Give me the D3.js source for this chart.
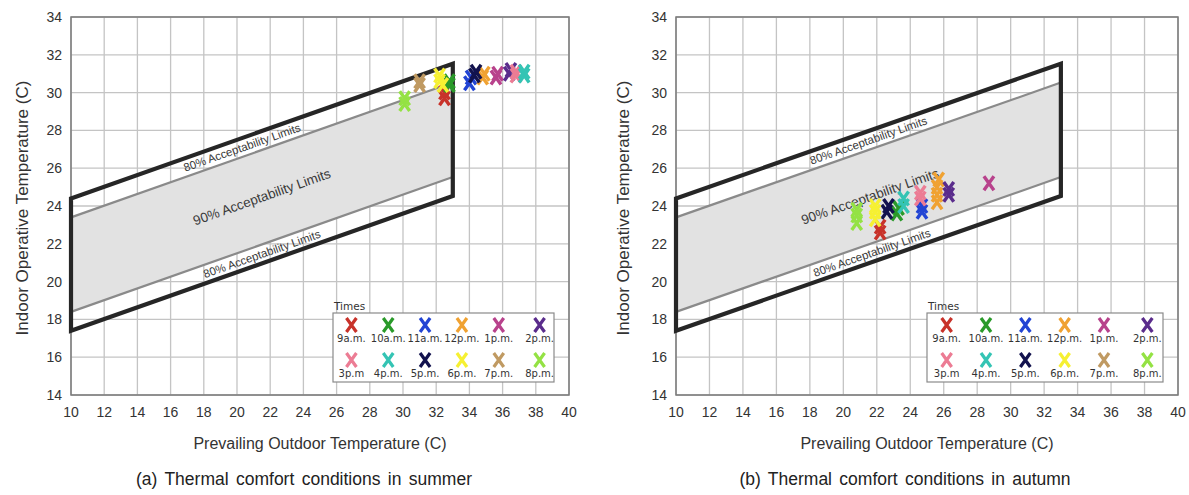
<!DOCTYPE html>
<html><head><meta charset="utf-8">
<script src="https://cdn.jsdelivr.net/npm/d3@7"></script>
<style>
body{margin:0;background:#fff;}
svg{display:block;}
</style></head>
<body>
<svg id="chart" width="1189" height="495"></svg>
<script>
// ---- data ----
const times = ["9a.m.","10a.m.","11a.m.","12p.m.","1p.m.","2p.m.","3p.m","4p.m.","5p.m.","6p.m.","7p.m.","8p.m."];
const timeColors = ["#c8322a","#2a9a2a","#2244d4","#f0a232","#b8428c","#5a2c8c","#ec7c94","#34c4b4","#12124e","#f6f032","#c09a62","#94e244"];
const xTicks = [10,12,14,16,18,20,22,24,26,28,30,32,34,36,38,40];
const yTicks = [14,16,18,20,22,24,26,28,30,32,34];
const bandOutdoor = [10, 33];           // prevailing outdoor temperature range of the comfort zone
const comfortSlope = 0.31, comfortIntercept = 17.8;
const limit80 = 3.5, limit90 = 2.5;
// summer points per time, [outdoor, indoor]
const summerPoints = [
  [[32.5,29.7],[32.5,30.0]],
  [[32.8,30.4],[32.8,30.6]],
  [[34.0,30.5],[34.1,30.8]],
  [[34.8,30.8],[34.9,31.0]],
  [[35.6,30.8],[35.7,31.0]],
  [[36.4,31.0],[36.5,31.2]],
  [[36.8,30.9],[36.8,31.1]],
  [[37.3,30.9],[37.3,31.1]],
  [[34.3,30.9],[34.4,31.1]],
  [[32.2,30.6],[32.2,30.9],[32.4,30.4]],
  [[31.0,30.4],[31.0,30.6]],
  [[30.1,29.4],[30.1,29.7]]
];
// autumn points per time
const autumnPoints = [
  [[22.2,22.6],[22.2,22.9]],
  [[23.2,23.6],[23.3,23.9]],
  [[24.7,23.7],[24.7,24.0]],
  [[25.6,24.2],[25.6,24.6],[25.6,25.0],[25.7,25.4]],
  [[28.7,25.2]],
  [[26.3,24.6],[26.3,24.9]],
  [[24.6,24.4],[24.6,24.7]],
  [[23.6,24.0],[23.6,24.4]],
  [[22.6,23.7],[22.7,24.0]],
  [[21.9,23.3],[21.9,23.7],[21.9,24.0]],
  [],
  [[20.8,23.1],[20.8,23.5],[20.8,23.8]]
];
const yTitle = "Indoor Operative Temperature (C)";
const xTitle = "Prevailing Outdoor Temperature (C)";
const captions = ["(a) Thermal comfort conditions in summer","(b) Thermal comfort conditions in autumn"];
const label80 = "80% Acceptability Limits", label90 = "90% Acceptability Limits";

// ---- layout ----
const panels = [
  {x0:71, x1:569, y0:17, y1:395, pts:summerPoints, caption:captions[0], capX:304, labT:[20.3,21.5,21.5], legX:333, legW:221, yTitleX:22},
  {x0:676, x1:1178, y0:17, y1:395, pts:autumnPoints, caption:captions[1], capX:905, labT:[21.5,21.6,21.7], legX:927, legW:236, yTitleX:623}
];

const svg = d3.select("#chart");
const tickFont = "'Liberation Sans', Arial, sans-serif";
const legFont = "'DejaVu Sans', Verdana, sans-serif";
const xPath = "M-5,-7L5,7M5,-7L-5,7";

panels.forEach(p => {
  const x = d3.scaleLinear().domain([10,40]).range([p.x0,p.x1]);
  const y = d3.scaleLinear().domain([14,34]).range([p.y1,p.y0]);
  const g = svg.append("g");

  // grid
  g.append("g").selectAll("line").data(xTicks).join("line")
    .attr("x1",d=>x(d)).attr("x2",d=>x(d)).attr("y1",p.y0).attr("y2",p.y1)
    .attr("stroke","#c4c4c4").attr("stroke-width",1.3);
  g.append("g").selectAll("line").data(yTicks).join("line")
    .attr("y1",d=>y(d)).attr("y2",d=>y(d)).attr("x1",p.x0).attr("x2",p.x1)
    .attr("stroke","#c4c4c4").attr("stroke-width",1.3);

  const comf = t => comfortSlope*t + comfortIntercept;
  const [t0,t1] = bandOutdoor;
  // 90% fill
  const area = d3.area().x(d=>x(d)).y0(d=>y(comf(d)-limit90)).y1(d=>y(comf(d)+limit90));
  g.append("path").datum(bandOutdoor).attr("d",area).attr("fill","#e2e2e2");
  // 90% lines
  [limit90,-limit90].forEach(l=>{
    g.append("line").attr("x1",x(t0)).attr("x2",x(t1))
      .attr("y1",y(comf(t0)+l)).attr("y2",y(comf(t1)+l))
      .attr("stroke","#8a8a8a").attr("stroke-width",2.2);
  });

  // frame
  g.append("rect").attr("x",p.x0).attr("y",p.y0).attr("width",p.x1-p.x0).attr("height",p.y1-p.y0)
    .attr("fill","none").attr("stroke","#7a7a7a").attr("stroke-width",1.5);

  // 80% polygon
  const poly = [[t0,comf(t0)+limit80],[t1,comf(t1)+limit80],[t1,comf(t1)-limit80],[t0,comf(t0)-limit80]];
  g.append("path").attr("d",d3.line().x(d=>x(d[0])).y(d=>y(d[1]))(poly)+"Z")
    .attr("fill","none").attr("stroke","#262626").attr("stroke-width",4.2).attr("stroke-linejoin","miter");

  // band labels
  const ang = -Math.atan(comfortSlope*(y(0)-y(1))/(x(1)-x(0)))*180/Math.PI;
  const labs = [
    {t:p.labT[0], v:comf(p.labT[0])+(limit80+limit90)/2, txt:label80, fs:11.5},
    {t:p.labT[1], v:comf(p.labT[1]), txt:label90, fs:13.5},
    {t:p.labT[2], v:comf(p.labT[2])-(limit80+limit90)/2, txt:label80, fs:11.5}
  ];
  labs.forEach(l=>{
    g.append("text").attr("transform",`translate(${x(l.t)},${y(l.v)}) rotate(${ang})`)
      .attr("text-anchor","middle").attr("dominant-baseline","central")
      .attr("font-family",tickFont).attr("font-size",l.fs).attr("fill","#3a3a3a").text(l.txt);
  });

  // tick labels
  g.append("g").selectAll("text").data(xTicks).join("text")
    .attr("x",d=>x(d)).attr("y",p.y1+22).attr("text-anchor","middle")
    .attr("font-family",tickFont).attr("font-size",14).attr("fill","#333").text(d=>d);
  g.append("g").selectAll("text").data(yTicks).join("text")
    .attr("x",p.x0-9).attr("y",d=>y(d)).attr("dy","0.35em").attr("text-anchor","end")
    .attr("font-family",tickFont).attr("font-size",14).attr("fill","#333").text(d=>d);

  // titles
  g.append("text").attr("transform",`translate(${p.yTitleX},${(p.y0+p.y1)/2 + 2}) rotate(-90)`)
    .attr("text-anchor","middle").attr("dominant-baseline","central")
    .attr("font-family",tickFont).attr("font-size",17).attr("fill","#333").text(yTitle);
  g.append("text").attr("x",(p.x0+p.x1)/2).attr("y",449).attr("text-anchor","middle")
    .attr("font-family",tickFont).attr("font-size",16).attr("fill","#333").text(xTitle);
  g.append("text").attr("x",p.capX).attr("y",485).attr("text-anchor","middle")
    .attr("font-family",tickFont).attr("font-size",17.5).attr("word-spacing",2.5)
    .attr("fill","#222").text(p.caption);

  // points
  p.pts.forEach((series,i)=>{
    g.append("g").selectAll("path").data(series).join("path")
      .attr("transform",d=>`translate(${x(d[0])},${y(d[1])})`)
      .attr("d",xPath).attr("fill","none").attr("stroke",timeColors[i])
      .attr("stroke-width",3.4).attr("stroke-linecap","butt");
  });

  // legend
  const lg = g.append("g");
  const ly = 313, lh = 69;
  lg.append("text").attr("x",p.legX+1).attr("y",ly-3).attr("font-family",legFont)
    .attr("font-size",10.5).attr("fill","#333").text("Times");
  lg.append("rect").attr("x",p.legX).attr("y",ly).attr("width",p.legW).attr("height",lh)
    .attr("fill","#fff").attr("stroke","#8a8a8a").attr("stroke-width",1.2);
  const colW = p.legW/6;
  times.forEach((t,i)=>{
    const r = Math.floor(i/6), c = i%6;
    const cx = p.legX + colW*(c+0.5) + (c===5?4:0);
    const cy = ly + 12 + r*35;
    lg.append("path").attr("transform",`translate(${cx},${cy})`).attr("d",xPath)
      .attr("fill","none").attr("stroke",timeColors[i]).attr("stroke-width",3.2);
    lg.append("text").attr("x",cx).attr("y",cy+17).attr("text-anchor","middle")
      .attr("font-family",legFont).attr("font-size",10).attr("fill","#333").text(t);
  });
});
</script>
</body></html>
